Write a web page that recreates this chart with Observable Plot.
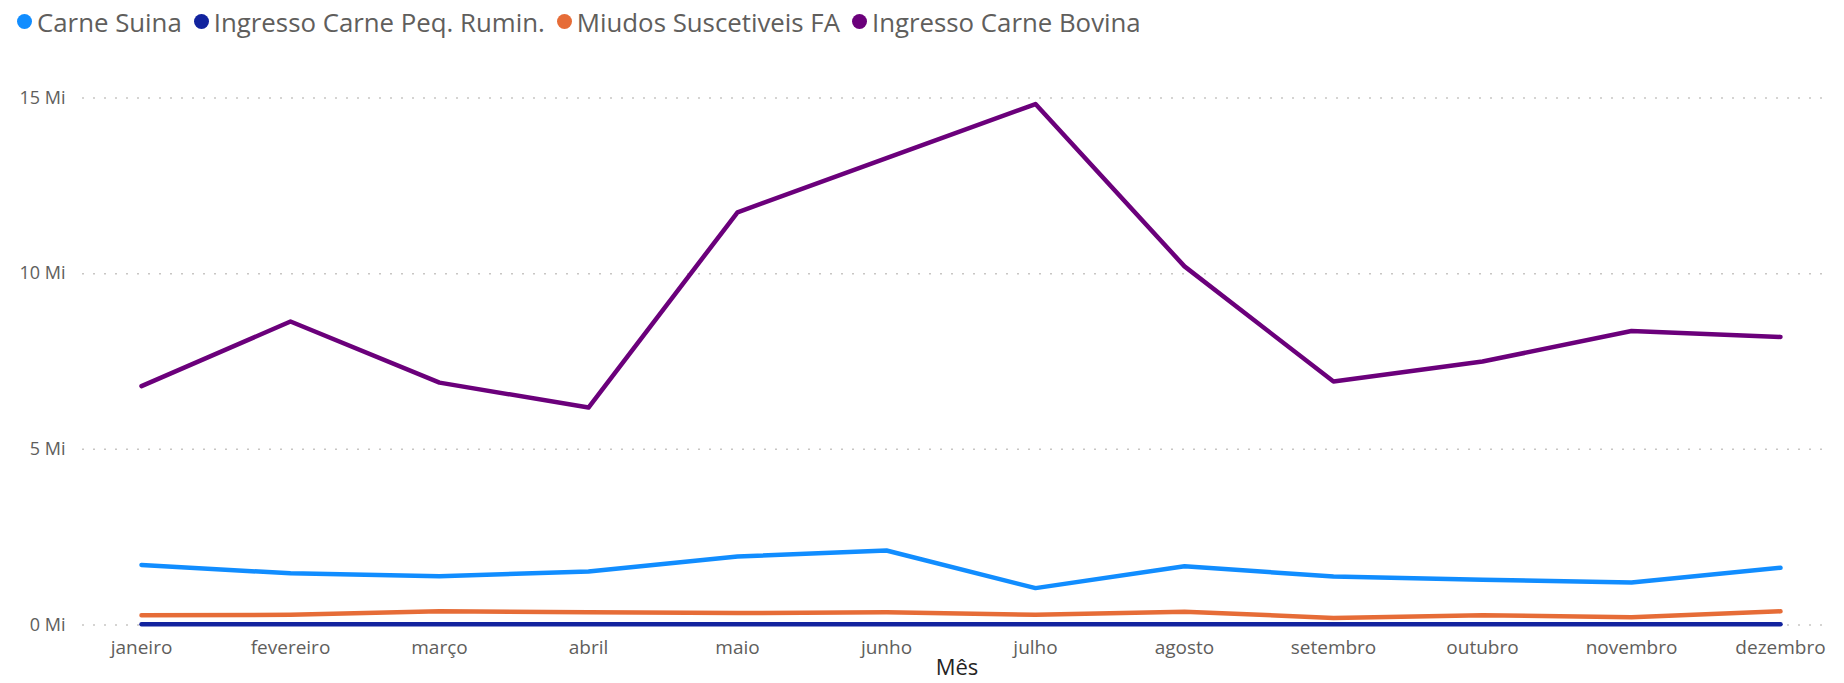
<!DOCTYPE html>
<html>
<head>
<meta charset="utf-8">
<script src="https://cdn.jsdelivr.net/npm/d3@7"></script>
<script src="https://cdn.jsdelivr.net/npm/@observablehq/plot@0.6"></script>
<style>
  html, body { margin: 0; padding: 0; background: #fff; overflow: hidden; }
  #legend { height: 44px; display: flex; align-items: center; padding-left: 17px; gap: 0;
    font-family: "Open Sans", sans-serif; font-size: 25.8px; color: #605e5c; white-space: nowrap; }
  .item { display: flex; align-items: center; margin-right: 12px; }
  .dot { width: 15px; height: 15px; border-radius: 50%; margin-right: 5px; margin-top: -2px; }
  #chart svg { display: block; }
</style>
</head>
<body>
<div id="legend"></div>
<div id="chart"></div>
<script>
const months = ["janeiro","fevereiro","março","abril","maio","junho","julho","agosto","setembro","outubro","novembro","dezembro"];
const seriesNames = ["Carne Suina","Ingresso Carne Peq. Rumin.","Miudos Suscetiveis FA","Ingresso Carne Bovina"];
const seriesColors = ["#118DFF","#12239E","#E66C37","#6B007B"];
const carneSuina = [1.71,1.47,1.39,1.52,1.95,2.12,1.05,1.67,1.38,1.29,1.21,1.63];
const peqRumin = [0.02,0.02,0.02,0.02,0.02,0.02,0.02,0.02,0.02,0.02,0.02,0.02];
const miudos = [0.28,0.29,0.39,0.36,0.34,0.36,0.29,0.38,0.20,0.28,0.22,0.39];
const bovina = [6.80,8.64,6.90,6.19,11.75,13.29,14.83,10.21,6.93,7.50,8.37,8.20];
const yTicks = [0,5,10,15];

const seriesValues = [carneSuina, peqRumin, miudos, bovina];
const rows = [];
seriesNames.forEach((s, i) => months.forEach((m, j) => rows.push({serie: s, mes: m, valor: seriesValues[i][j]})));

const legend = document.getElementById("legend");
seriesNames.forEach((s, i) => {
  const it = document.createElement("div"); it.className = "item";
  const d = document.createElement("div"); d.className = "dot"; d.style.background = seriesColors[i];
  const t = document.createElement("span"); t.textContent = s;
  it.appendChild(d); it.appendChild(t); legend.appendChild(it);
});

const chart = Plot.plot({
  width: 1844,
  height: 639,
  marginLeft: 82,
  marginRight: 13,
  marginTop: 53.6,
  marginBottom: 58.5,
  style: { fontFamily: "'Open Sans', sans-serif", fontSize: "17px", color: "#605e5c", background: "#fff" },
  x: { type: "point", domain: months, padding: 0.36, align: 0.537, label: null },
  y: { domain: [0, 15], label: null },
  color: { domain: seriesNames, range: seriesColors },
  marks: [
    Plot.gridY(yTicks, { stroke: "#c8c6c4", strokeOpacity: 1, strokeDasharray: "2,9", strokeWidth: 1.5 }),
    Plot.axisY(yTicks, { tickSize: 0, tickPadding: 17, tickFormat: d => d + " Mi", fontSize: 18, fill: "#605e5c", label: null }),
    Plot.axisX({ tickSize: 0, tickPadding: 15, fontSize: 19, fill: "#605e5c", label: null }),
    Plot.axisX({ tickSize: 0, ticks: [], label: "Mês", labelAnchor: "center", labelOffset: 50, fontSize: 22, color: "#252423", fill: "#252423" }),
    Plot.line(rows, { x: "mes", y: "valor", z: "serie", stroke: "serie", strokeWidth: 4.5, strokeLinejoin: "round", strokeLinecap: "round" })
  ]
});
document.getElementById("chart").appendChild(chart);
</script>
</body>
</html>
